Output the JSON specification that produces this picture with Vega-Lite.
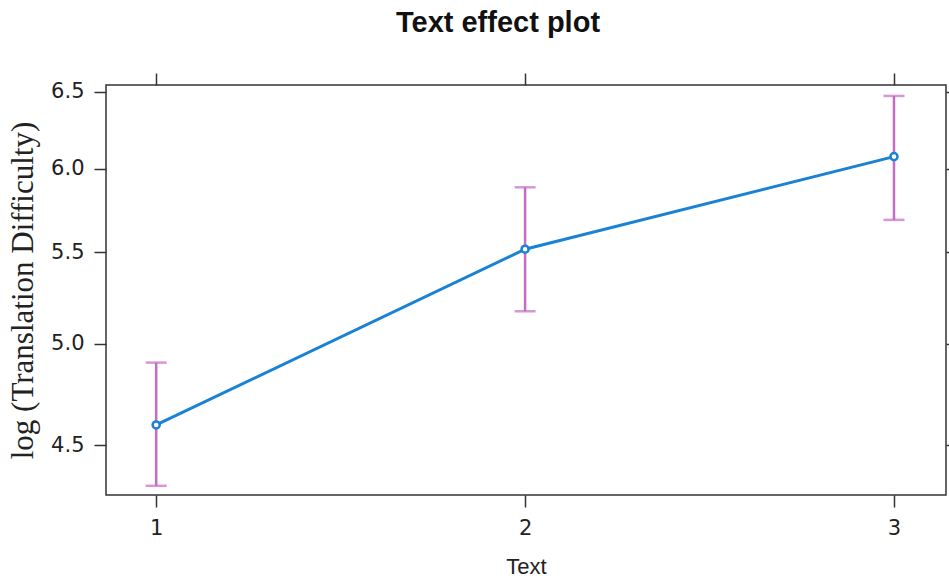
{
  "$schema": "https://vega.github.io/schema/vega-lite/v6.json",
  "width": 840,
  "height": 410,
  "autosize": "none",
  "padding": {"left": 106, "top": 85, "right": 3, "bottom": 89},
  "background": "white",
  "title": {"text": "Text effect plot", "font": "Liberation Sans", "fontSize": 29, "fontWeight": "bold", "color": "#111", "anchor": "middle", "offset": 34, "dx": -28},
  "config": {
    "view": {"stroke": "#333", "strokeWidth": 1.5},
    "axis": {"domain": false, "grid": false, "tickSize": 12, "tickWidth": 1.5, "tickColor": "#333", "labelFont": "DejaVu Sans", "labelFontSize": 21, "labelColor": "#222", "titleColor": "#222"}
  },
  "data": {"values": [
    {"Text": 1, "fit": 4.595, "lower": 4.313, "upper": 4.903},
    {"Text": 2, "fit": 5.517, "lower": 5.172, "upper": 5.884},
    {"Text": 3, "fit": 6.075, "lower": 5.688, "upper": 6.471}
  ]},
  "resolve": {"axis": {"x": "independent", "y": "independent"}},
  "layer": [
    {
      "mark": {"type": "rule", "color": "#c46bc4", "strokeWidth": 2.5},
      "encoding": {
        "x": {"field": "Text", "type": "quantitative", "scale": {"domain": [0.864, 3.141], "nice": false, "zero": false},
              "axis": {"orient": "bottom", "values": [1, 2, 3], "format": "d", "title": "Text", "titleFont": "Liberation Sans", "titleFontSize": 22, "titleFontWeight": "normal", "labelPadding": 10, "titlePadding": 18}},
        "y": {"field": "lower", "type": "quantitative", "scale": {"type": "log", "domain": [4.272, 6.545], "nice": false},
              "axis": {"orient": "left", "values": [4.5, 5, 5.5, 6, 6.5], "format": ".1f", "title": "log (Translation Difficulty)", "titleFont": "Liberation Serif", "titleFontSize": 31, "titleFontWeight": "normal", "labelPadding": 10, "titlePadding": 11}},
        "y2": {"field": "upper"}
      }
    },
    {
      "mark": {"type": "tick", "orient": "horizontal", "color": "#c46bc4", "size": 21, "thickness": 2.5},
      "encoding": {
        "x": {"field": "Text", "type": "quantitative", "axis": null},
        "y": {"field": "lower", "type": "quantitative", "axis": null}
      }
    },
    {
      "mark": {"type": "tick", "orient": "horizontal", "color": "#c46bc4", "size": 21, "thickness": 2.5},
      "encoding": {
        "x": {"field": "Text", "type": "quantitative", "axis": null},
        "y": {"field": "upper", "type": "quantitative", "axis": null}
      }
    },
    {
      "mark": {"type": "line", "color": "#1a82d4", "strokeWidth": 3},
      "encoding": {
        "x": {"field": "Text", "type": "quantitative", "axis": null},
        "y": {"field": "fit", "type": "quantitative", "axis": null}
      }
    },
    {
      "mark": {"type": "point", "shape": "circle", "filled": false, "size": 50, "stroke": "#1a82d4", "strokeWidth": 2.5, "fill": "white", "opacity": 1},
      "encoding": {
        "x": {"field": "Text", "type": "quantitative", "axis": null},
        "y": {"field": "fit", "type": "quantitative", "axis": null}
      }
    },
    {
      "mark": {"type": "point", "opacity": 0},
      "encoding": {
        "x": {"field": "Text", "type": "quantitative", "axis": {"orient": "top", "values": [1, 2, 3], "labels": false, "title": null}},
        "y": {"field": "fit", "type": "quantitative", "axis": {"orient": "right", "values": [4.5, 5, 5.5, 6, 6.5], "labels": false, "title": null}}
      }
    }
  ]
}
